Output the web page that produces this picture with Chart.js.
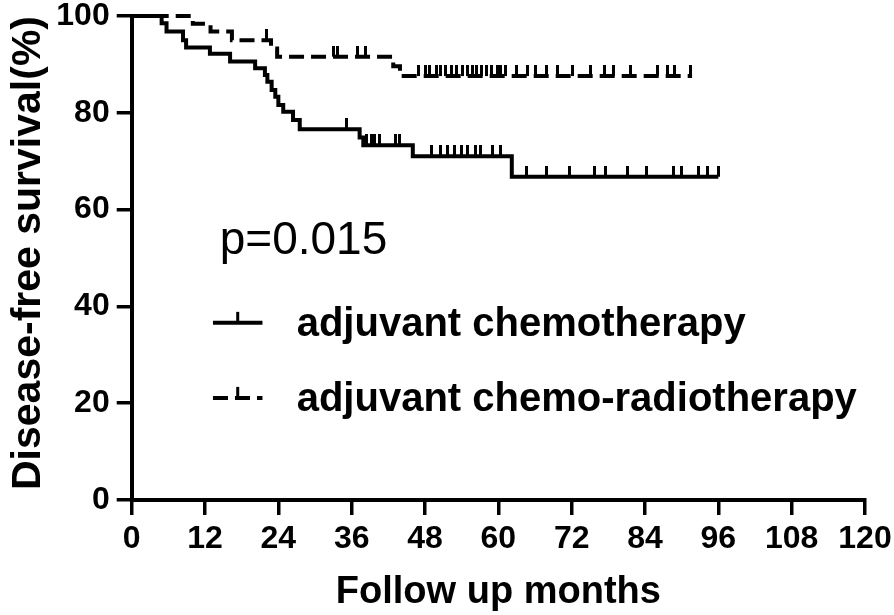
<!DOCTYPE html>
<html><head><meta charset="utf-8">
<script src="https://cdn.jsdelivr.net/npm/chart.js@4.4.1/dist/chart.umd.min.js"></script>
<style>html,body{margin:0;padding:0;background:#fff;}#wrap{width:894px;height:615px;position:relative;}</style>
</head><body><div id="wrap"><canvas id="c" width="894" height="615"></canvas></div>
<script>
// ---- data ----
const seriesNames = ['adjuvant chemotherapy', 'adjuvant chemo-radiotherapy'];
const xTickValues = [0, 12, 24, 36, 48, 60, 72, 84, 96, 108, 120];
const yTickValues = [0, 20, 40, 60, 80, 100];
const xTitle = 'Follow up months';
const yTitle = 'Disease-free survival(%)';
const pValueLabel = 'p=0.015';

// adjuvant chemotherapy: step times (months) and survival (%)
const chemoTimes = [0, 4.9, 5.7, 8.4, 8.9, 12.8, 16.1, 20.2, 21.8, 22.2, 22.9, 23.5, 24.0, 24.8, 26.4, 27.5, 37.3, 37.9, 46.0, 62.2, 96.0];
const chemoSurv  = [100, 98.5, 96.8, 95.0, 93.5, 92.2, 90.6, 89.2, 87.8, 86.4, 84.7, 83.3, 81.6, 80.2, 78.5, 76.6, 74.9, 73.3, 71.0, 66.8, 66.8];
const chemoCensored = [35.2, 38.5, 39.2, 39.8, 40.5, 43.1, 43.9, 49.1, 50.5, 51.6, 52.9, 54.0, 55.0, 56.2, 57.0, 59.0, 60.3, 64.6, 67.9, 71.7, 75.8, 77.5, 81.2, 84.3, 88.6, 90.0, 92.7, 94.3, 96.0];

// adjuvant chemo-radiotherapy
const radioTimes = [0, 10.0, 12.9, 16.4, 22.8, 23.8, 42.8, 43.9, 91.7];
const radioSurv  = [100, 98.4, 96.8, 95.0, 93.3, 91.6, 89.6, 87.6, 87.6];
const radioCensored = [22.1, 33.1, 33.6, 37.0, 38.2, 46.9, 48.0, 48.8, 49.8, 50.6, 51.4, 52.4, 53.2, 54.1, 54.9, 55.7, 56.5, 57.3, 58.1, 58.9, 59.8, 60.4, 61.1, 62.9, 64.7, 66.0, 67.9, 69.6, 72.1, 75.0, 77.3, 78.8, 81.7, 86.0, 87.6, 88.9, 91.4];

// ---- helpers ----
function survAt(times, surv, t) {
  let s = surv[0];
  for (let i = 0; i < times.length; i++) { if (times[i] <= t) s = surv[i]; }
  return s;
}
function stepPoints(times, surv) { return times.map((t, i) => ({x: t, y: surv[i]})); }
function censorPoints(cens, times, surv) { return cens.map(t => ({x: t, y: survAt(times, surv, t)})); }

const TICK_H = 11, TICK_W = 3, LINE_W = 4, DASH = [15, 7];
function makeTick() {
  const c = document.createElement('canvas');
  c.width = TICK_W; c.height = TICK_H * 2;
  const g = c.getContext('2d');
  g.fillStyle = '#000'; g.fillRect(0, 0, TICK_W, TICK_H);
  return c;
}
const tickImg = makeTick();

const FONT = '"Liberation Sans", Arial, sans-serif';

const annotPlugin = {
  id: 'annot',
  afterDraw(chart) {
    const {ctx, scales: {x, y}} = chart;
    ctx.save();
    ctx.fillStyle = '#000';
    ctx.strokeStyle = '#000';
    ctx.textBaseline = 'middle';
    ctx.textAlign = 'left';
    ctx.font = '46px ' + FONT;
    ctx.fillText(pValueLabel, x.getPixelForValue(14.4), y.getPixelForValue(53.4));
    const items = [
      {label: seriesNames[0], dash: [], yv: 36.6},
      {label: seriesNames[1], dash: DASH, yv: 21.1}
    ];
    items.forEach(it => {
      const py = y.getPixelForValue(it.yv);
      const x0 = x.getPixelForValue(13.3), x1 = x.getPixelForValue(21.4);
      ctx.lineWidth = LINE_W;
      ctx.setLineDash(it.dash);
      ctx.beginPath(); ctx.moveTo(x0, py); ctx.lineTo(x1, py); ctx.stroke();
      ctx.setLineDash([]);
      const xm = (x0 + x1) / 2;
      ctx.fillRect(xm - TICK_W / 2, py - TICK_H, TICK_W, TICK_H);
      ctx.font = 'bold 40px ' + FONT;
      ctx.fillText(it.label, x.getPixelForValue(27.0), py + 2);
    });
    ctx.restore();
  }
};

new Chart(document.getElementById('c'), {
  type: 'line',
  data: {
    datasets: [
      {label: seriesNames[0], data: stepPoints(chemoTimes, chemoSurv), stepped: 'before', borderColor: '#000', borderWidth: LINE_W, pointRadius: 0, fill: false, clip: false},
      {label: seriesNames[1], data: stepPoints(radioTimes, radioSurv), stepped: 'before', borderColor: '#000', borderWidth: LINE_W, borderDash: DASH, pointRadius: 0, fill: false, clip: false},
      {type: 'scatter', label: seriesNames[0] + ' censored', data: censorPoints(chemoCensored, chemoTimes, chemoSurv), pointStyle: tickImg, showLine: false, clip: false},
      {type: 'scatter', label: seriesNames[1] + ' censored', data: censorPoints(radioCensored, radioTimes, radioSurv), pointStyle: tickImg, showLine: false, clip: false}
    ]
  },
  options: {
    responsive: false,
    animation: false,
    layout: {padding: {top: 16, right: 29, left: 0, bottom: 0}},
    plugins: {legend: {display: false}, tooltip: {enabled: false}},
    scales: {
      x: {
        type: 'linear', min: 0, max: 120,
        afterBuildTicks: s => { s.ticks = xTickValues.map(v => ({value: v})); },
        afterFit: s => { s.height = 115; s.paddingLeft = 0; s.paddingRight = 0; },
        grid: {drawOnChartArea: false, drawTicks: true, tickLength: 15, color: '#000', lineWidth: 3.5},
        border: {display: true, color: '#000', width: 4},
        ticks: {color: '#000', padding: 8, maxRotation: 0, autoSkip: false, font: {family: FONT, size: 32, weight: 'bold', lineHeight: 1}},
        title: {display: true, text: xTitle, color: '#000', font: {family: FONT, size: 38, weight: 'bold', lineHeight: 1}, padding: {top: 0, bottom: 3}}
      },
      y: {
        type: 'linear', min: 0, max: 100,
        afterBuildTicks: s => { s.ticks = yTickValues.map(v => ({value: v})); },
        afterFit: s => { s.width = 131.7; s.paddingTop = 0; s.paddingBottom = 0; },
        grid: {drawOnChartArea: false, drawTicks: true, tickLength: 15, color: '#000', lineWidth: 3.5},
        border: {display: true, color: '#000', width: 4},
        ticks: {color: '#000', padding: 7, font: {family: FONT, size: 32, weight: 'bold', lineHeight: 1}},
        title: {display: true, text: yTitle, align: 'end', color: '#000', font: {family: FONT, size: 41, weight: 'bold', lineHeight: 1.2}, padding: {top: 4, bottom: 0}}
      }
    }
  },
  plugins: [annotPlugin]
});
</script></body></html>
